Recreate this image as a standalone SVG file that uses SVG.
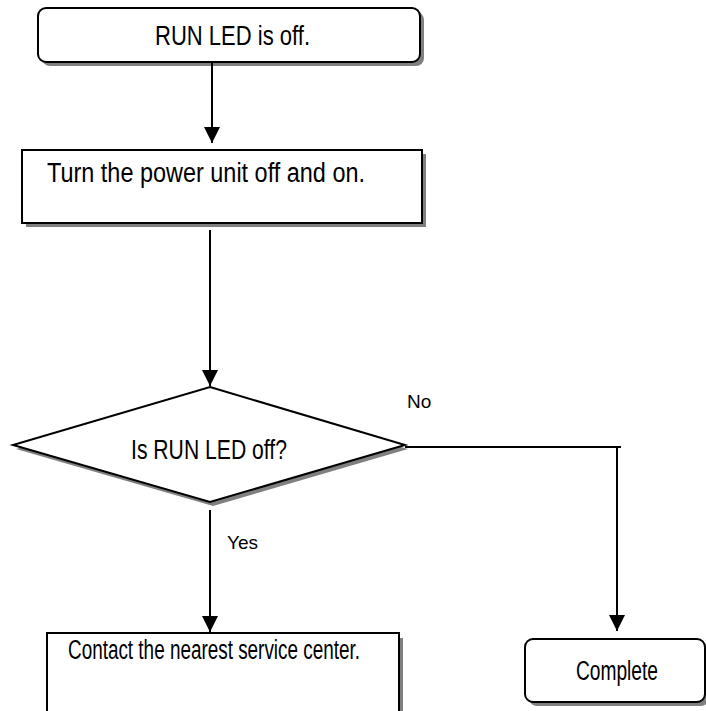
<svg xmlns="http://www.w3.org/2000/svg" width="706" height="711" viewBox="0 0 706 711">
<style>
.shape{fill:#fff;stroke:#000;stroke-width:2}
.shadow{fill:#808080;stroke:none}
.lbl{font-family:"Liberation Sans",Arial,sans-serif;font-size:27px;fill:#000}
.edge{font-family:"Liberation Sans",Arial,sans-serif;font-size:19px;fill:#000}
.conn{fill:none;stroke:#000;stroke-width:2}
</style>
<defs>
<marker id="arr" markerWidth="16" markerHeight="16" viewBox="0 0 16 16" refX="16" refY="8" orient="auto" markerUnits="userSpaceOnUse">
<path d="M0,0 L16,8 L0,16 Z" fill="#000"/>
</marker>
</defs>
<rect width="706" height="711" fill="#fff"/>
<g id="node-start">
<rect class="shadow" x="42" y="12" width="382" height="54" rx="8"/>
<rect class="shape" x="38" y="8" width="382" height="54" rx="8"/>
<text class="lbl" x="155" y="45" textLength="155" lengthAdjust="spacingAndGlyphs">RUN LED is off.</text>
</g>
<g id="node-power">
<rect class="shadow" x="26" y="154" width="400" height="73"/>
<rect class="shape" x="22" y="150" width="400" height="73"/>
<text class="lbl" x="47" y="182" textLength="318" lengthAdjust="spacingAndGlyphs">Turn the power unit off and on.</text>
</g>
<g id="node-decision">
<polygon class="shadow" points="213,391 408,449 213,506 16,449"/>
<polygon class="shape" points="210,387 405,445 210,502 13,445"/>
<text class="lbl" x="131" y="459" textLength="156" lengthAdjust="spacingAndGlyphs">Is RUN LED off?</text>
</g>
<g id="node-contact">
<rect class="shadow" x="51" y="638" width="352" height="80"/>
<rect class="shape" x="47" y="633" width="352" height="80"/>
<text class="lbl" x="68" y="659" textLength="292" lengthAdjust="spacingAndGlyphs">Contact the nearest service center.</text>
</g>
<g id="node-complete">
<rect class="shadow" x="529" y="643" width="180" height="63" rx="8"/>
<rect class="shape" x="525" y="639" width="180" height="63" rx="8"/>
<text class="lbl" x="576" y="680" textLength="82" lengthAdjust="spacingAndGlyphs">Complete</text>
</g>
<g id="connectors">
<line class="conn" x1="212" y1="62" x2="212" y2="143" marker-end="url(#arr)"/>
<line class="conn" x1="210" y1="230" x2="210" y2="386" marker-end="url(#arr)"/>
<polyline class="conn" points="405,447 621,447"/>
<line class="conn" x1="617" y1="447" x2="617" y2="631" marker-end="url(#arr)"/>
<line class="conn" x1="210" y1="510" x2="210" y2="632" marker-end="url(#arr)"/>
<text class="edge" x="407" y="408">No</text>
<text class="edge" x="227" y="549">Yes</text>
</g>
</svg>
